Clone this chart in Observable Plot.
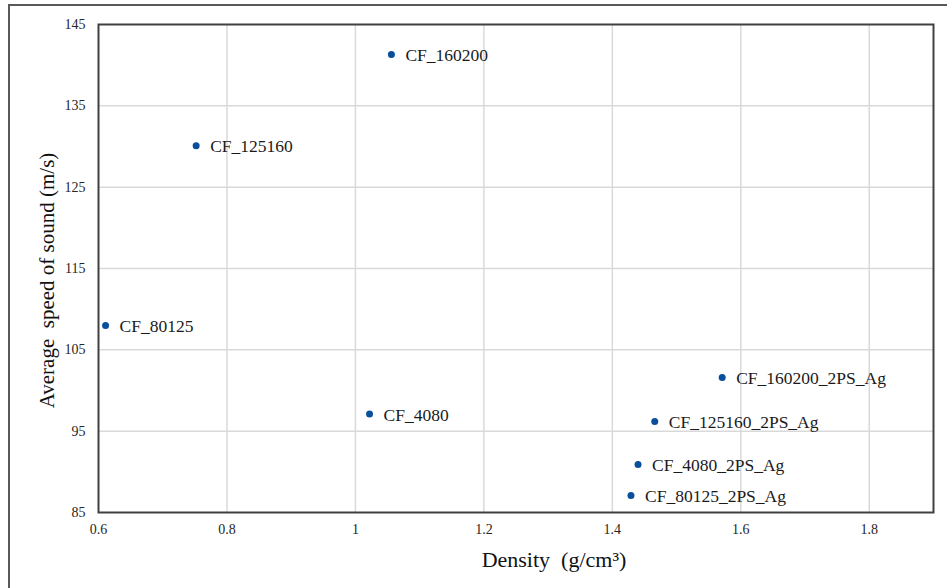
<!DOCTYPE html>
<html>
<head>
<meta charset="utf-8">
<script src="https://cdn.jsdelivr.net/npm/d3@7"></script>
<script src="https://cdn.jsdelivr.net/npm/@observablehq/plot@0.6"></script>
<style>
  html, body { margin: 0; padding: 0; background: #fff; overflow: hidden; }
  #wrap { position: relative; width: 947px; height: 588px; }
  #outer { position: absolute; left: 8px; top: 4px; width: 1000px; height: 1000px; border: 2px solid #595959; box-sizing: border-box; }
  #chart { position: absolute; left: 0; top: 0; }
  #chart svg, #chart svg text { font-family: "Liberation Serif", "Times New Roman", serif !important; }
</style>
</head>
<body>
<div id="wrap"><div id="outer"></div><div id="chart"></div></div>
<script>
const names = ["CF_160200", "CF_125160", "CF_80125", "CF_4080",
  "CF_160200_2PS_Ag", "CF_125160_2PS_Ag", "CF_4080_2PS_Ag", "CF_80125_2PS_Ag"];
const density = [1.056, 0.752, 0.611, 1.022, 1.571, 1.466, 1.440, 1.429];
const speed = [141.3, 130.1, 108.0, 97.1, 101.6, 96.2, 90.9, 87.1];
const xTicks = [0.6, 0.8, 1.0, 1.2, 1.4, 1.6, 1.8];
const xTickLabels = ["0.6", "0.8", "1", "1.2", "1.4", "1.6", "1.8"];
const yTicks = [85, 95, 105, 115, 125, 135, 145];
const xTitle = "Density  (g/cm³)";
const yTitle = "Average  speed of sound (m/s)";

const data = names.map((n, i) => ({name: n, density: density[i], speed: speed[i]}));

const chart = Plot.plot({
  width: 947,
  height: 588,
  marginLeft: 98,
  marginRight: 14,
  marginTop: 24,
  marginBottom: 76,
  style: {background: "transparent", color: "#262626"},
  x: {domain: [0.6, 1.9]},
  y: {domain: [85, 145]},
  marks: [
    Plot.gridX(xTicks.slice(1), {stroke: "#d9d9d9", strokeOpacity: 1, strokeWidth: 1.5}),
    Plot.gridY(yTicks.slice(1, -1), {stroke: "#d9d9d9", strokeOpacity: 1, strokeWidth: 1.5}),
    Plot.frame({stroke: "#404040", strokeWidth: 2}),
    Plot.axisX(xTicks, {tickSize: 0, tickPadding: 12, fontSize: 14, tickFormat: (d) => xTickLabels[xTicks.indexOf(d)], label: null}),
    Plot.axisY(yTicks, {tickSize: 0, tickPadding: 13, fontSize: 14, label: null}),
    Plot.text([xTitle], {frameAnchor: "bottom", dy: 54, dx: 38, fontSize: 22, fill: "#111", style: "white-space: pre"}),
    Plot.text([yTitle], {frameAnchor: "left", dx: -51, dy: 12, rotate: -90, fontSize: 21, fill: "#111", textAnchor: "middle", style: "white-space: pre"}),
    Plot.dot(data, {x: "density", y: "speed", r: 3.5, fill: "#0a4f9c", stroke: "none"}),
    Plot.text(data, {x: "density", y: "speed", text: "name", textAnchor: "start", dx: 14, dy: 1, fontSize: 17.5, fill: "#1a1a1a"})
  ]
});
document.getElementById("chart").appendChild(chart);
</script>
</body>
</html>
